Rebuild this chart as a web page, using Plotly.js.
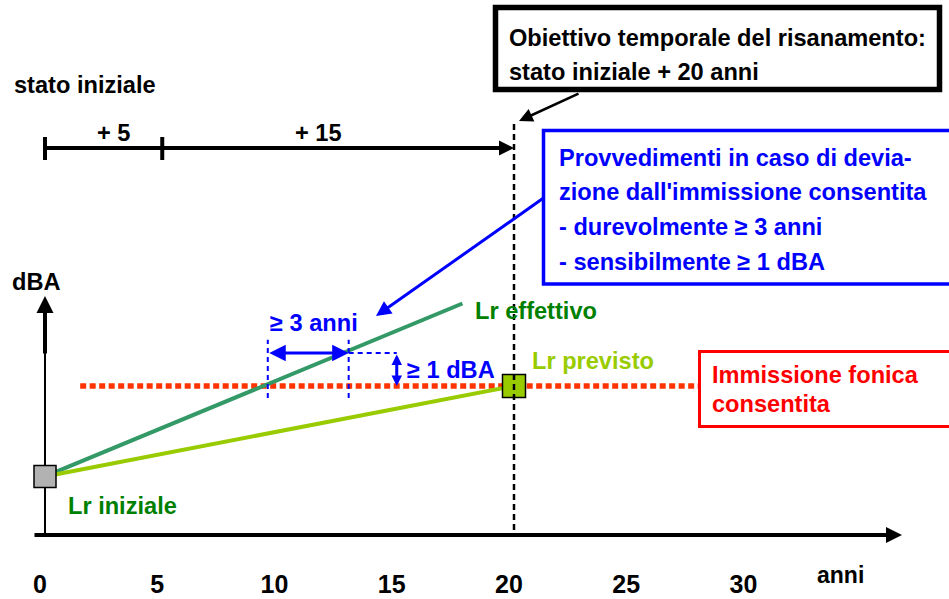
<!DOCTYPE html>
<html>
<head>
<meta charset="utf-8">
<script src="https://cdn.plot.ly/plotly-3.0.1.min.js"></script>
<style>html,body{margin:0;padding:0;background:#fff;}#chart{width:949px;height:599px;}</style>
</head>
<body>
<div id="chart"></div>
<script>
// ---- data ----
const yearTicks = [0, 5, 10, 15, 20, 25, 30];
const yearTickLabels = ['0', '5', '10', '15', '20', '25', '30'];
const targetYear = 20;          // stato iniziale + 20 anni
const firstStep = 5;            // + 5
const limitDbA = 60;            // immissione fonica consentita
const limitSpan = [1.5, 27.85]; // extent of the limit line (anni)
const lrIniziale = 57.26;
const lrEffettivoX = [0, 17.8];
const lrEffettivoY = [lrIniziale, 62.5];
const lrPrevistoX = [0, targetYear];
const lrPrevistoY = [lrIniziale, limitDbA];
const deviationYears = [9.5, 12.95]; // >= 3 anni
const deviationDbA = 61;             // >= 1 dBA
const deviationArrowX = 15.0;

// ---- pixel helpers for decoration placement ----
const PXY = 23.45, X0 = 45, PXD = 33, PY0 = 386;
const X = px => (px - X0) / PXY;
const Y = py => limitDbA + (PY0 - py) / PXD;

const F = 'Liberation Sans, Arial, sans-serif';
const FN = 'Liberation Sans Narrow, Arial Narrow, Liberation Sans, sans-serif';
const FS = 23.6;
const BLUE = '#0000ff', RED = '#ff0000', DGREEN = '#008000', LGREEN = '#99cc00', TEAL = '#339966';

const traces = [
  {x: limitSpan, y: [limitDbA, limitDbA], mode: 'lines', line: {color: '#ff3300', width: 5.5, dash: '6px,3.5px'}, hoverinfo: 'skip'},
  {x: lrEffettivoX, y: lrEffettivoY, mode: 'lines', line: {color: TEAL, width: 4}, hoverinfo: 'skip'},
  {x: lrPrevistoX, y: lrPrevistoY, mode: 'lines', line: {color: LGREEN, width: 4}, hoverinfo: 'skip'},
  {x: [deviationYears[0], deviationYears[0]], y: [limitDbA - 0.36, deviationDbA + 0.4], mode: 'lines', line: {color: BLUE, width: 2, dash: '5px,4px'}, hoverinfo: 'skip'},
  {x: [deviationYears[1], deviationYears[1]], y: [limitDbA - 0.36, deviationDbA + 0.4], mode: 'lines', line: {color: BLUE, width: 2, dash: '5px,4px'}, hoverinfo: 'skip'},
  {x: [deviationYears[1], deviationArrowX], y: [deviationDbA, deviationDbA], mode: 'lines', line: {color: BLUE, width: 2, dash: '5px,4px'}, hoverinfo: 'skip'},
  {x: [0], y: [lrIniziale], mode: 'markers', marker: {symbol: 'square', size: 22, color: '#b2b2b2', line: {color: '#000', width: 1.5}}, hoverinfo: 'skip'},
  {x: [targetYear], y: [limitDbA], mode: 'markers', marker: {symbol: 'square', size: 23, color: LGREEN, line: {color: '#000', width: 1.5}}, hoverinfo: 'skip'}
];

function txt(text, px, py, color, opts) {
  return Object.assign({
    x: X(px), y: Y(py), xref: 'x', yref: 'y', text: text, showarrow: false,
    xanchor: 'left', yanchor: 'middle',
    font: {family: F, size: FS, color: color, weight: 'bold'}
  }, opts || {});
}
function arrow(x0, y0, x1, y1, color, width, size, extra) {
  return Object.assign({
    x: x1, y: y1, ax: x0, ay: y0, xref: 'x', yref: 'y', axref: 'x', ayref: 'y',
    text: '', showarrow: true, arrowhead: 2, arrowsize: size, arrowwidth: width, arrowcolor: color
  }, extra || {});
}

const annotations = [
  txt('stato iniziale', 12, 85, '#000'),
  txt('+ 5', 113, 133, '#000', {xanchor: 'center'}),
  txt('+ 15', 318, 133, '#000', {xanchor: 'center'}),
  txt('Obiettivo temporale del risanamento:', 507, 38, '#000'),
  txt('stato iniziale + 20 anni', 507, 72, '#000'),
  txt('Provvedimenti in caso di devia-', 557, 158, BLUE),
  txt("zione dall'immissione consentita", 557, 192, BLUE),
  txt('- durevolmente ≥ 3 anni', 557, 227, BLUE),
  txt('- sensibilmente ≥ 1 dBA', 557, 262, BLUE),
  txt('Lr effettivo', 473, 311, DGREEN),
  txt('≥ 3 anni', 268, 323, BLUE),
  txt('≥ 1 dBA', 405, 370, BLUE),
  txt('Lr previsto', 530, 361, LGREEN),
  txt('Immissione fonica', 710, 375, RED),
  txt('consentita', 710, 404, RED),
  txt('dBA', 36, 282, '#000', {xanchor: 'center'}),
  txt('Lr iniziale', 66, 506, DGREEN),
  txt('anni', 815, 579, '#000', {yref: 'paper', y: -0.055, font: {family: FN, size: 23, color: '#000', weight: 'bold'}}),
  // top bracket arrow 0 -> 20
  arrow(0, Y(148), targetYear, Y(148), '#000', 4, 0.75),
  // callout arrow from the black box
  arrow(X(580), Y(93), X(519), Y(121), '#000', 2.5, 1.1),
  // callout arrow from the blue box
  arrow(X(545), Y(197), X(376), Y(316), BLUE, 3, 1.0),
  // x axis
  arrow(X(33), Y(535), X(902), Y(535), '#000', 4, 0.8),
  // y axis (thick upper part)
  arrow(0, Y(355), 0, Y(296), '#000', 4, 0.85),
  // >= 3 anni double arrow
  arrow(deviationYears[0], deviationDbA, deviationYears[1], deviationDbA, BLUE, 3, 1.1, {arrowside: 'end+start'}),
  // >= 1 dBA double arrow
  arrow(deviationArrowX, deviationDbA, deviationArrowX, limitDbA, BLUE, 3, 0.7, {arrowside: 'end+start'})
];

const shapes = [
  // thin y axis line
  {type: 'line', xref: 'x', yref: 'y', x0: 0, x1: 0, y0: Y(535), y1: Y(353), line: {color: '#000', width: 2}, layer: 'below'},
  // bracket ticks
  {type: 'line', xref: 'x', yref: 'y', x0: 0, x1: 0, y0: Y(137), y1: Y(160), line: {color: '#000', width: 4}},
  {type: 'line', xref: 'x', yref: 'y', x0: firstStep, x1: firstStep, y0: Y(137), y1: Y(160), line: {color: '#000', width: 4}},
  // target year dashed line
  {type: 'line', xref: 'x', yref: 'y', x0: targetYear, x1: targetYear, y0: Y(124), y1: Y(535), line: {color: '#000', width: 2.5, dash: '6px,4px'}, layer: 'above'},
  // black box
  {type: 'rect', xref: 'x', yref: 'y', x0: X(495.5), x1: X(939.5), y0: Y(7.5), y1: Y(89.5), line: {color: '#000', width: 5.5}, fillcolor: 'rgba(0,0,0,0)'},
  // blue box
  {type: 'rect', xref: 'x', yref: 'y', x0: X(543.5), x1: X(960), y0: Y(130.5), y1: Y(284), line: {color: BLUE, width: 3.5}, fillcolor: 'rgba(0,0,0,0)'},
  // red box
  {type: 'rect', xref: 'x', yref: 'y', x0: X(699.5), x1: X(960), y0: Y(351.5), y1: Y(426.5), line: {color: RED, width: 3}, fillcolor: 'rgba(255,255,255,1)'}
];

const layout = {
  width: 949, height: 599,
  margin: {l: 0, r: 0, t: 0, b: 54, pad: 0},
  paper_bgcolor: '#fff', plot_bgcolor: '#fff',
  showlegend: false,
  xaxis: {
    range: [X(0), X(949)], tickvals: yearTicks, ticktext: yearTickLabels,
    showgrid: false, zeroline: false, showline: false, ticks: '',
    ticklabelstandoff: 22, ticklabelshift: -5,
    tickfont: {family: FN, size: 25, color: '#000', weight: 'bold'}, fixedrange: true
  },
  yaxis: {range: [Y(545), Y(0)], visible: false, fixedrange: true},
  shapes: shapes,
  annotations: annotations
};

Plotly.newPlot('chart', traces, layout, {displayModeBar: false, staticPlot: true});
</script>
</body>
</html>
